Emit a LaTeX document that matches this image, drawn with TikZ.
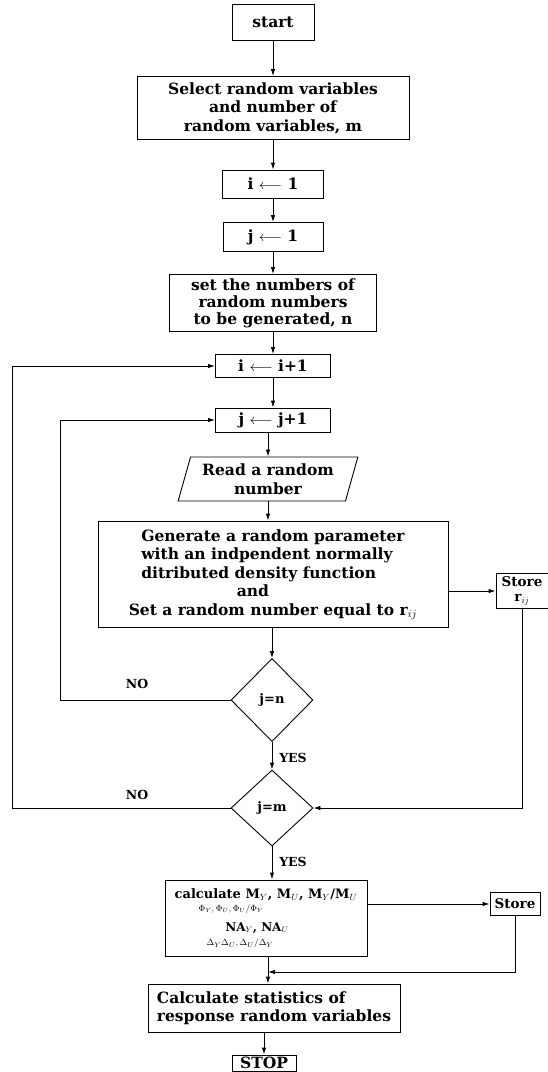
\documentclass[tikz,border=0pt]{standalone}
\usepackage{fontspec}
\setmainfont{DejaVu Serif}
\usetikzlibrary{shapes.geometric,arrows.meta}
\begin{document}
\begin{tikzpicture}[x=1pt,y=-1pt,
  box/.style={draw, line width=0.9pt, inner sep=0pt, align=center,
    font=\fontsize{15.5}{18.5}\selectfont\bfseries},
  storebox/.style={box, font=\fontsize{13.5}{15}\selectfont\bfseries},
  dia/.style={draw, diamond, line width=0.9pt, inner sep=0pt,
    font=\fontsize{13}{15}\selectfont\bfseries},
  lbl/.style={font=\fontsize{12.5}{14}\selectfont\bfseries},
  link/.style={line width=0.9pt, -{Latex[length=7pt,width=4.5pt]}},
  wire/.style={line width=0.9pt}]
\useasboundingbox (0,0) rectangle (548,1072);
\node[box, minimum width=82, minimum height=36] (start) at (273,22) {start};
\node[box, minimum width=272, minimum height=63] (sel) at (273,108)
  {Select random variables\\and number of\\random variables, m};
\node[box, minimum width=101, minimum height=28] (i1) at (273,184) {i $\longleftarrow$ 1};
\node[box, minimum width=100, minimum height=29] (j1) at (273,237) {j $\longleftarrow$ 1};
\node[box, minimum width=207, minimum height=57, font=\fontsize{15.5}{17}\selectfont\bfseries] (set) at (273,303)
  {set the numbers of\\random numbers\\to be generated, n};
\node[box, minimum width=115, minimum height=23] (iinc) at (273,366) {i $\longleftarrow$ i+1};
\node[box, minimum width=115, minimum height=24] (jinc) at (273,420) {j $\longleftarrow$ j+1};
\node[box, trapezium, trapezium left angle=71, trapezium right angle=109,
  trapezium stretches=true, minimum width=180, minimum height=44] (read) at (268,479)
  {Read a random\\number};
\node[box, minimum width=350, minimum height=106] (gen) at (273,574)
  {\begin{tabular}{@{}l@{}}Generate a random parameter\\with an indpendent normally\\ditributed density function\end{tabular}\\\hspace*{-40pt}and\\Set a random number equal to r$_{ij}$};
\node[storebox, minimum width=52, minimum height=35] (st1) at (522,591) {Store\\r$_{ij}$};
\node[dia, minimum width=82, minimum height=83] (jn) at (272,700) {j=n};
\node[dia, minimum width=82, minimum height=76] (jm) at (272,808) {j=m};
\node[box, minimum width=202, minimum height=76] (calc) at (266,918)
  {{\fontsize{13}{15}\selectfont calculate M$_Y$, M$_U$, M$_Y$/M$_U$}\\[-5pt]
   \hspace*{-70pt}{\fontsize{9}{10}\selectfont $\Phi_Y, \Phi_U, \Phi_U/\Phi_Y$}\\[1pt]
   \hspace*{-18pt}{\fontsize{12}{13}\selectfont NA$_Y$, NA$_U$}\\[-4pt]
   \hspace*{-52pt}{\fontsize{9.5}{10}\selectfont $\Delta_Y \Delta_U, \Delta_U/\Delta_Y$}};
\node[storebox, minimum width=50, minimum height=23] (st2) at (515,904) {Store};
\node[box, minimum width=252, minimum height=48, align=left] (stats) at (274,1008)
  {Calculate statistics of\\response random variables};
\node[box, minimum width=64, minimum height=16] (stop) at (264,1063) {STOP};
\coordinate (l1) at (60,0);
\coordinate (l2) at (12,0);
\coordinate (mrg) at (268,972);
\node[lbl] (no1) at (137,684) {NO};
\node[lbl] (no2) at (137,795) {NO};
\node[lbl] (yes1) at (293,758) {YES};
\node[lbl] (yes2) at (293,862) {YES};
\draw[link] (start) -- (sel);
\draw[link] (sel) -- (i1);
\draw[link] (i1) -- (j1);
\draw[link] (j1) -- (set);
\draw[link] (set) -- (iinc);
\draw[link] (iinc) -- (jinc);
\draw[link] (jinc.south -| read.north) -- (read.north);
\draw[link] (read.south) -- (read.south |- gen.north);
\draw[link] (gen.south -| jn.north) -- (jn.north);
\draw[link] (jn) -- (jm);
\draw[link] (jm.south) -- (jm.south |- calc.north);
\draw[link] (calc.south -| mrg) -- (stats.north -| mrg);
\draw[link] (stats.south -| stop.north) -- (stop.north);
\draw[link] (jn.west) -- (jn.west -| l1) |- (jinc.west);
\draw[link] (jm.west) -- (jm.west -| l2) |- (iinc.west);
\draw[link] (st1.west -| gen.east) -- (st1.west);
\draw[link] (st1.south) |- (jm.east);
\draw[link] (st2.west -| calc.east) -- (st2.west);
\draw[link] (st2.south) |- (mrg);
\end{tikzpicture}
\end{document}
